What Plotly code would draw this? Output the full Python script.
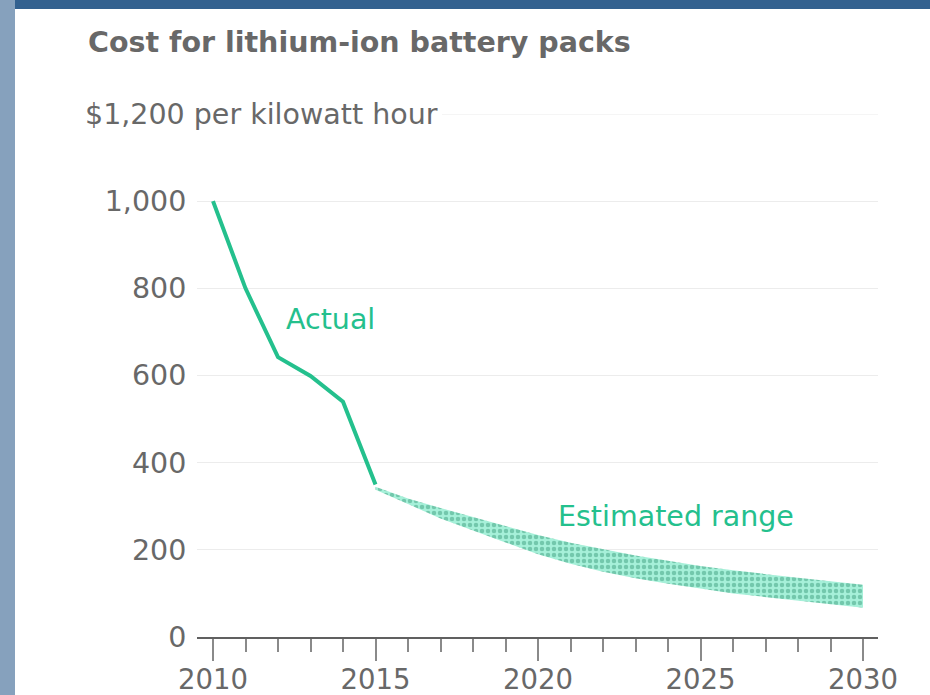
import plotly.graph_objects as go

# ---- data ----
actual_years = [2010, 2011, 2012, 2013, 2014, 2015]
actual_cost = [1000, 800, 642, 599, 540, 350]

est_years = list(range(2015, 2031))
est_upper = [345, 318, 296, 275, 254, 234, 216, 201, 187, 175, 163, 153, 144, 136, 128, 120]
est_lower = [338, 305, 272, 244, 217, 190, 168, 150, 135, 122, 111, 100, 91, 83, 75, 67]

y_ticks = [0, 200, 400, 600, 800, 1000]
x_major = [2010, 2015, 2020, 2025, 2030]

GREEN = "#24c08d"
GRAY = "#686868"
FONT = "DejaVu Sans"

W, H = 930, 695
L, R, T, B = 197, 52, 114, 58
pw, ph = W - L - R, H - T - B
PX_PER_YEAR = 32.5

def px(xp):
    return (xp - L) / pw

def py(yp):
    return (H - B - yp) / ph

fig = go.Figure()

# estimated range band
fig.add_trace(go.Scatter(
    x=est_years + est_years[::-1],
    y=est_upper + est_lower[::-1],
    mode="lines", line=dict(width=0, color=GREEN),
    fill="toself",
    fillpattern=dict(shape=".", fgcolor="#3f9f80", bgcolor="#a6f0d9", size=6, solidity=0.45),
    hoverinfo="skip", showlegend=False,
))

# actual line
fig.add_trace(go.Scatter(
    x=actual_years, y=actual_cost, mode="lines",
    line=dict(color=GREEN, width=4), showlegend=False,
))

shapes = [
    # frame strips and white panel
    dict(type="rect", xref="paper", yref="paper", x0=px(0), x1=px(15), y0=py(H), y1=py(0),
         fillcolor="#86a1bd", line=dict(width=0), layer="below"),
    dict(type="rect", xref="paper", yref="paper", x0=px(15), x1=px(W), y0=py(H), y1=py(9),
         fillcolor="white", line=dict(width=0), layer="below"),
    # top gridline (1,200)
    dict(type="line", xref="paper", yref="y", x0=px(442), x1=1, y0=1200, y1=1200,
         line=dict(color="#ececec", width=1), layer="below"),
]

fig.update_layout(
    width=W, height=H,
    margin=dict(l=L, r=R, t=T, b=B, autoexpand=False),
    paper_bgcolor="#33618f",
    plot_bgcolor="rgba(0,0,0,0)",
    shapes=shapes,
    font=dict(family=FONT, color=GRAY, size=28),
    title=dict(text="<b>Cost for lithium-ion battery packs</b>", x=88 / W, xanchor="left",
               y=1 - 42 / H, yanchor="middle", yref="container",
               font=dict(family=FONT, size=28.5, color=GRAY)),
    annotations=[
        dict(text="$1,200 per kilowatt hour", xref="paper", yref="y", x=px(83), y=1200,
             xanchor="left", yanchor="middle", showarrow=False,
             font=dict(family=FONT, size=28.5, color=GRAY)),
        dict(text="Actual", xref="paper", yref="paper", x=px(330), y=py(319),
             xanchor="center", yanchor="middle", showarrow=False,
             font=dict(family=FONT, size=28.5, color=GREEN)),
        dict(text="Estimated range", xref="paper", yref="paper", x=px(676), y=py(516),
             xanchor="center", yanchor="middle", showarrow=False,
             font=dict(family=FONT, size=28.5, color=GREEN)),
    ],
    xaxis=dict(
        range=[2010 - (213 - L) / PX_PER_YEAR, 2010 + (W - R - 213) / PX_PER_YEAR],
        tickmode="array", tickvals=x_major, ticktext=[str(v) for v in x_major],
        ticks="outside", ticklen=22, tickwidth=1.5, tickcolor="#8a8a8a",
        ticklabelstandoff=-5,
        minor=dict(dtick=1, tick0=2010, ticks="outside", ticklen=13, tickwidth=1.5,
                   tickcolor="#8a8a8a", showgrid=False),
        showline=True, linecolor="#606060", linewidth=2,
        showgrid=False, zeroline=False, fixedrange=True, automargin=False,
        tickfont=dict(family=FONT, size=27.5, color=GRAY),
    ),
    yaxis=dict(
        range=[0, 1200],
        tickmode="array", tickvals=y_ticks, ticktext=[f"{v:,}" for v in y_ticks],
        ticks="outside", ticklen=4, tickcolor="rgba(0,0,0,0)",
        showgrid=True, gridcolor="#ececec", gridwidth=1,
        zeroline=False, showline=False, fixedrange=True, automargin=False,
        tickfont=dict(family=FONT, size=28.5, color=GRAY),
    ),
)

fig.write_html("out.html", config={"displayModeBar": False},
               post_script="document.body.style.margin='0';")
